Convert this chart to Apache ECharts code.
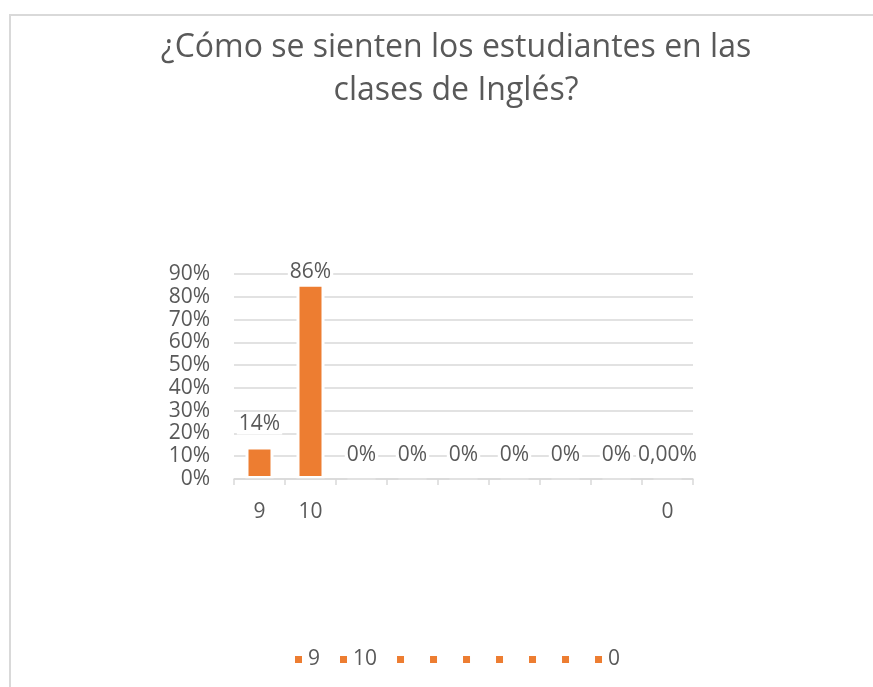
<!DOCTYPE html>
<html>
<head>
<meta charset="utf-8">
<script src="https://cdn.jsdelivr.net/npm/echarts@6/dist/echarts.min.js"></script>
<style>
  html, body { margin: 0; padding: 0; background: #fff; overflow: hidden; }
  #frame { position: absolute; left: 9px; top: 14px; width: 900px; height: 700px; border: 2px solid #d9d9d9; }
  #chart { position: absolute; left: 0; top: 0; width: 873px; height: 687px; }
</style>
</head>
<body>
<div id="frame"></div>
<div id="chart"></div>
<script>
// data
var categories = ['9', '10', '', '', '', '', '', '', '0'];
var shares = [0.1429, 0.8571, 0, 0, 0, 0, 0, 0, 0];
var valueLabels = ['14%', '86%', '0%', '0%', '0%', '0%', '0%', '0%', '0,00%'];
var yTicks = [0, 0.1, 0.2, 0.3, 0.4, 0.5, 0.6, 0.7, 0.8, 0.9];

var textColor = '#595959';
var gridColor = '#d9d9d9';
var barColor = '#ed7d31';
var font = '"Open Sans", sans-serif';

// one series per category so the legend lists each one (Excel "vary by point" look)
var series = categories.map(function (cat, i) {
  return {
    // blank categories still need distinct legend names
    name: cat || '\u200b'.repeat(i),
    type: 'bar',
    stack: 'all',
    barWidth: 28,
    data: categories.map(function (c, j) { return j === i ? shares[i] : '-'; }),
    // white outline drawn inside the bar rect, so the orange part is 22px wide
    itemStyle: { color: barColor, borderColor: '#fff', borderWidth: 3 },
    label: {
      show: true,
      position: 'top',
      distance: i === 1 ? 1 : 12,
      formatter: function () { return valueLabels[i]; },
      color: textColor,
      fontFamily: font,
      fontSize: 21,
      backgroundColor: '#fff',
      padding: [0, 2]
    }
  };
});

var chart = echarts.init(document.getElementById('chart'));
chart.setOption({
  animation: false,
  backgroundColor: 'transparent',
  title: {
    text: '¿Cómo se sienten los estudiantes en las\nclases de Inglés?',
    left: 456,
    top: 26,
    padding: 0,
    textAlign: 'center',
    textStyle: {
      color: textColor,
      fontFamily: font,
      fontSize: 32,
      fontWeight: 'normal',
      lineHeight: 43
    }
  },
  legend: {
    left: 288,
    top: 644,
    icon: 'rect',
    itemWidth: 9,
    itemHeight: 9,
    itemGap: 18,
    textStyle: { color: textColor, fontFamily: font, fontSize: 21 }
  },
  grid: { left: 234, right: 180, top: 274, bottom: 208, containLabel: false },
  xAxis: {
    type: 'category',
    data: categories,
    z: 5,
    axisLine: { lineStyle: { color: gridColor, width: 1.5 } },
    axisTick: { show: true, length: 6, lineStyle: { color: gridColor, width: 1.5 } },
    axisLabel: { color: textColor, fontFamily: font, fontSize: 21, margin: 23 }
  },
  yAxis: {
    type: 'value',
    min: yTicks[0],
    max: yTicks[yTicks.length - 1],
    interval: yTicks[1] - yTicks[0],
    axisLine: { show: false },
    axisTick: { show: false },
    splitLine: { lineStyle: { color: gridColor, width: 1.5 } },
    axisLabel: {
      color: textColor,
      fontFamily: font,
      fontSize: 21,
      margin: 24,
      formatter: function (v) { return Math.round(v * 100) + '%'; }
    }
  },
  series: series
});
</script>
</body>
</html>
